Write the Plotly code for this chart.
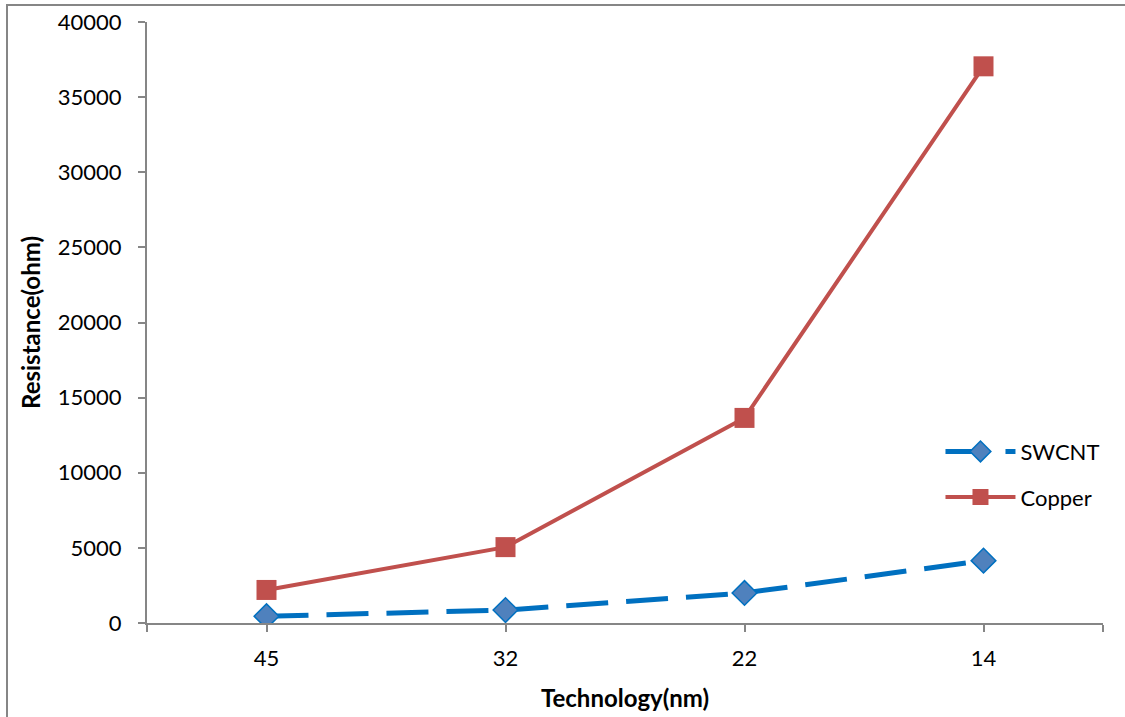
import plotly.graph_objects as go

categories = ["45", "32", "22", "14"]
swcnt = [450, 860, 2000, 4150]
copper = [2200, 5050, 13650, 37050]
y_ticks = [0, 5000, 10000, 15000, 20000, 25000, 30000, 35000, 40000]

FONT = "Lato, 'Noto Sans', sans-serif"
AX = "#868686"

xpos = list(range(len(categories)))

fig = go.Figure()
fig.add_trace(go.Scatter(
    x=xpos, y=swcnt, name="SWCNT", mode="lines+markers", legendgroup="a",
    line=dict(color="#0070C0", width=5, dash="42px,18px"),
    marker=dict(symbol="diamond", size=19, color="#4F81BD",
                line=dict(color="#0070C0", width=1.5)),
))
fig.add_trace(go.Scatter(
    x=xpos, y=copper, name="Copper", mode="lines+markers", legendgroup="b",
    line=dict(color="#C0504D", width=4),
    marker=dict(symbol="square", size=20, color="#C0504D",
                line=dict(color="#C0504D", width=0)),
))

fig.update_layout(
    width=1125, height=717,
    margin=dict(l=147, r=22, t=22, b=94, autoexpand=False),
    paper_bgcolor="white", plot_bgcolor="white",
    font=dict(family=FONT, size=22, color="black"),
    showlegend=True,
    legend=dict(x=0.83, y=0.32, xanchor="left", yanchor="top",
                bgcolor="rgba(0,0,0,0)", font=dict(size=22),
                itemwidth=70, tracegroupgap=14),
    xaxis=dict(
        range=[-0.5, 3.5], automargin=False,
        tickmode="array",
        tickvals=[-0.5] + xpos + [3.5],
        ticktext=[""] + categories + [""],
        ticks="outside", ticklen=7, tickcolor=AX, tickwidth=2,
        ticklabelstandoff=8,
        showline=True, linecolor=AX, linewidth=2,
        showgrid=False, zeroline=False,
        title=dict(text="<b>Technology(nm)</b>", font=dict(size=24), standoff=20),
    ),
    yaxis=dict(
        range=[0, 40000], automargin=False,
        tickmode="array", tickvals=y_ticks, ticktext=[str(v) for v in y_ticks],
        ticks="outside", ticklen=7, tickcolor=AX, tickwidth=2,
        ticklabelstandoff=12,
        showline=True, linecolor=AX, linewidth=2,
        showgrid=False, zeroline=False,
        title=dict(text="<b>Resistance(ohm)</b>", font=dict(size=24), standoff=10),
    ),
)

# outer chart border (cropped on right and bottom)
fig.add_shape(type="rect", xref="paper", yref="paper",
              x0=(7 - 147) / 956, x1=1.2, y0=-0.5, y1=(623 - 5) / 601,
              line=dict(color=AX, width=2), fillcolor="rgba(0,0,0,0)", layer="below")

fig.write_html("out.html")
